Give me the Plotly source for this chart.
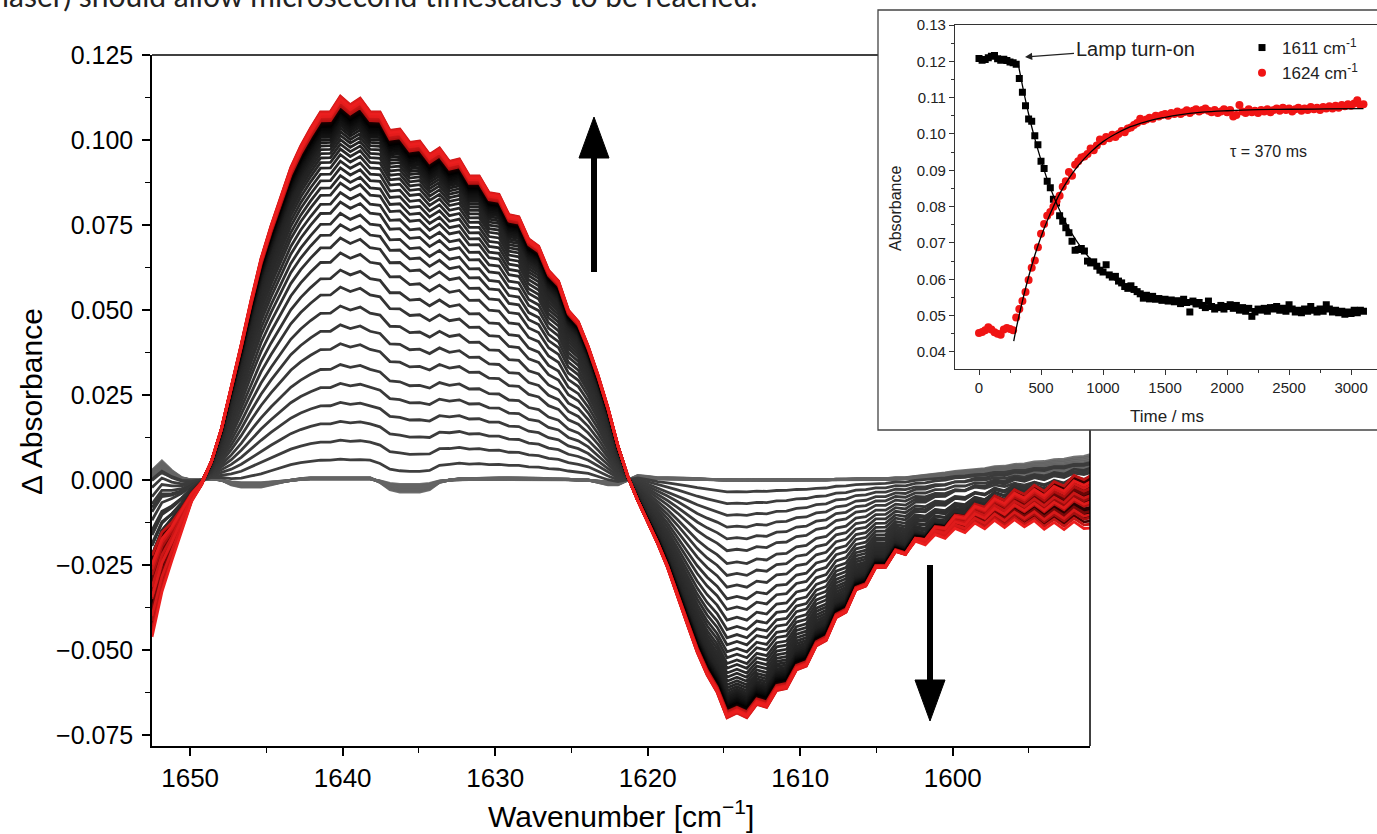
import plotly.graph_objects as go

W, H = 1377, 834

# ---------------- main spectra data ----------------
wavenumber = [1652.5, 1651.85, 1651.2, 1650.55, 1649.9, 1649.25, 1648.6, 1647.95, 1647.3, 1646.65,
              1646.0, 1645.35, 1644.7, 1644.05, 1643.4, 1642.75, 1642.1, 1641.45, 1640.8, 1640.15,
              1639.5, 1638.85, 1638.2, 1637.55, 1636.9, 1636.25, 1635.6, 1634.95, 1634.3, 1633.65,
              1633.0, 1632.35, 1631.7, 1631.05, 1630.4, 1629.75, 1629.1, 1628.45, 1627.8, 1627.15,
              1626.5, 1625.85, 1625.2, 1624.55, 1623.9, 1623.25, 1622.6, 1621.95, 1621.3, 1620.65,
              1620.0, 1619.35, 1618.7, 1618.05, 1617.4, 1616.75, 1616.1, 1615.45, 1614.8, 1614.15,
              1613.5, 1612.85, 1612.2, 1611.55, 1610.9, 1610.25, 1609.6, 1608.95, 1608.3, 1607.65,
              1607.0, 1606.35, 1605.7, 1605.05, 1604.4, 1603.75, 1603.1, 1602.45, 1601.8, 1601.15,
              1600.5, 1599.85, 1599.2, 1598.55, 1597.9, 1597.25, 1596.6, 1595.95, 1595.3, 1594.65,
              1594.0, 1593.35, 1592.7, 1592.05, 1591.4, 1590.75]

final_spectrum = [-0.036, -0.028, -0.020, -0.012, -0.005, -0.001, 0.005, 0.015, 0.028, 0.041,
                  0.054, 0.066, 0.075, 0.083, 0.091, 0.097, 0.102, 0.1067, 0.1068, 0.1112,
                  0.1088, 0.1107, 0.1068, 0.1077, 0.1038, 0.1047, 0.1008, 0.1012, 0.0968, 0.0972,
                  0.0928, 0.0932, 0.0883, 0.0882, 0.0833, 0.0827, 0.0768, 0.0762, 0.0698, 0.0677,
                  0.0608, 0.0577, 0.0493, 0.0462, 0.039, 0.031, 0.022, 0.011, 0.001, -0.007,
                  -0.013, -0.019, -0.026, -0.034, -0.0425, -0.0505, -0.057, -0.0618, -0.0692, -0.0678,
                  -0.0692, -0.0653, -0.0662, -0.0613, -0.0607, -0.0553, -0.0542, -0.0483, -0.0467, -0.0403,
                  -0.0387, -0.0323, -0.0312, -0.0258, -0.0257, -0.0213, -0.0222, -0.0183, -0.0192, -0.016,
                  -0.017, -0.014, -0.015, -0.012, -0.0135, -0.011, -0.0128, -0.0105, -0.0123, -0.0105,
                  -0.0127, -0.0107, -0.0125, -0.0102, -0.012, -0.0115]

baseline = [0.002, 0.004, 0.002, 0.0005, 0.0, 0.0, 0.0005, 0.0, -0.001, -0.0015,
            -0.0015, -0.0015, -0.001, -0.0005, 0.0, 0.0003, 0.0005, 0.0005, 0.0005, 0.0006,
            0.0005, 0.0005, 0.0005, -0.0005, -0.002, -0.0025, -0.0025, -0.0025, -0.002, -0.0005,
            0.0, 0.0003, 0.0003, 0.0004, 0.0004, 0.0005, 0.0005, 0.0005, 0.0004, 0.0004,
            0.0003, 0.0003, 0.0002, 0.0, 0.0, -0.0005, -0.001, -0.001, 0.0, 0.001,
            0.0008, 0.0005, 0.0005, 0.0005, 0.0004, 0.0003, 0.0002, 0.0, 0.0, 0.0,
            0.0, 0.0, 0.0, 0.0, 0.0, 0.0, 0.0, 0.0, 0.0, 0.0002,
            0.0002, 0.0003, 0.0003, 0.0003, 0.0003, 0.0005, 0.0005, 0.0008, 0.001, 0.0012,
            0.0015, 0.0018, 0.002, 0.0022, 0.0024, 0.0028, 0.0029, 0.0033, 0.0034, 0.0038,
            0.0039, 0.0043, 0.0044, 0.0048, 0.005, 0.0055]

drift = [0.015, 0.011, 0.007, 0.004, 0.0015, 0.0005, 0, 0, 0, 0,
         0, 0, 0, 0, 0, 0, 0, 0, 0, 0,
         0, 0, 0, 0, 0, 0, 0, 0, 0, 0,
         0, 0, 0, 0, 0, 0, 0, 0, 0, 0,
         0, 0, 0, 0, 0, 0, 0, 0, 0, 0,
         0, 0, 0, 0, 0, 0, 0, 0, 0, 0,
         0, 0, 0, 0, 0, 0, 0, 0, 0, 0,
         0, 0, 0, 0, 0, 0, 0, 0.0005, 0.001, 0.0015,
         0.002, 0.0025, 0.003, 0.0035, 0.004, 0.0045, 0.005, 0.0055, 0.006, 0.0065,
         0.007, 0.0075, 0.008, 0.0085, 0.009, 0.01]

# pre-lamp (flat) spectra: baseline scale factors
baseline_scale = [1.0, 0.6, 1.3, 0.8, 1.1, 0.5, 1.2, 0.9, 0.7, 1.4, 1.0, 0.8]

# fraction of the final difference spectrum reached by each later spectrum
rise_fraction = [0.05, 0.10, 0.15, 0.20, 0.25, 0.30, 0.355, 0.405, 0.455, 0.505,
                 0.55, 0.595, 0.635, 0.67, 0.70, 0.73,
                 0.755, 0.78, 0.80, 0.82, 0.838, 0.855, 0.87, 0.883, 0.895, 0.906,
                 0.916, 0.925, 0.933, 0.94, 0.946, 0.952, 0.957, 0.962, 0.966, 0.970,
                 0.973, 0.976, 0.979, 0.981, 0.983, 0.985, 0.987, 0.989, 0.990, 0.991,
                 0.992, 0.993, 0.994, 0.995, 0.996, 0.997, 0.998, 0.985, 1.005, 0.990,
                 1.010, 0.995, 1.000, 1.008, 0.997, 1.003]
rise_drift = [0.0, 0.1, -0.1, 0.2, 0.0, -0.2, 0.1, 0.3, -0.1, 0.0,
              0.2, -0.2, 0.1, 0.0, 0.3, -0.1, 0.2, -0.3, 0.0, 0.1,
              0.4, -0.2, 0.2, 0.0, -0.3, 0.3, 0.1, -0.1, 0.4, -0.4,
              0.2, 0.5, -0.3, 0.0, 0.6, -0.5, 0.3, -0.1, 0.4, 0.1,
              -0.4, 0.5, -0.2, 0.2, 0.7, -0.6, 0.0, 0.3, -0.3, 0.6,
              0.1, -0.5, 0.4, -0.1, 0.8, -0.7, 0.2, 0.5, -0.4, 0.0,
              0.6, -0.8]

# ---------------- inset kinetics data ----------------
time_ms = [0, 25, 50, 75, 100, 125, 150, 175, 200, 225,
           250, 275, 300, 325, 350, 375, 400, 425, 450, 475,
           500, 525, 550, 575, 600, 625, 650, 675, 700, 725,
           750, 775, 800, 825, 850, 875, 900, 925, 950, 975,
           1000, 1025, 1050, 1075, 1100, 1125, 1150, 1175, 1200, 1225,
           1250, 1275, 1300, 1325, 1350, 1375, 1400, 1425, 1450, 1475,
           1500, 1525, 1550, 1575, 1600, 1625, 1650, 1675, 1700, 1725,
           1750, 1775, 1800, 1825, 1850, 1875, 1900, 1925, 1950, 1975,
           2000, 2025, 2050, 2075, 2100, 2125, 2150, 2175, 2200, 2225,
           2250, 2275, 2300, 2325, 2350, 2375, 2400, 2425, 2450, 2475,
           2500, 2525, 2550, 2575, 2600, 2625, 2650, 2675, 2700, 2725,
           2750, 2775, 2800, 2825, 2850, 2875, 2900, 2925, 2950, 2975,
           3000, 3025, 3050, 3075, 3100]

abs_1611 = [0.1208, 0.1203, 0.1205, 0.1210, 0.1214, 0.1216, 0.1207, 0.1203, 0.1206, 0.1202,
            0.1198, 0.1196, 0.1192, 0.1153, 0.1115, 0.1078, 0.1041, 0.1035, 0.0995, 0.0970,
            0.0925, 0.0905, 0.0870, 0.0852, 0.0820, 0.0810, 0.0775, 0.0760, 0.0742, 0.0728,
            0.0705, 0.0680, 0.0682, 0.0685, 0.0678, 0.0650, 0.0645, 0.0648, 0.0636, 0.0625,
            0.0620, 0.0640, 0.0612, 0.0606, 0.0608, 0.0595, 0.0590, 0.0580, 0.0575, 0.0582,
            0.0572, 0.0566, 0.0560, 0.0548, 0.0556, 0.0546, 0.0553, 0.0545, 0.0547, 0.0542,
            0.0545, 0.0540, 0.0543, 0.0538, 0.0541, 0.0533, 0.0545, 0.0536, 0.0510, 0.0540,
            0.0532, 0.0536, 0.0528, 0.0522, 0.0540, 0.0525, 0.0518, 0.0522, 0.0528, 0.0518,
            0.0525, 0.0530, 0.0520, 0.0528, 0.0515, 0.0522, 0.0512, 0.0520, 0.0498, 0.0510,
            0.0518, 0.0515, 0.0520, 0.0512, 0.0522, 0.0518, 0.0525, 0.0515, 0.0520, 0.0512,
            0.0530, 0.0518, 0.0510, 0.0515, 0.0508, 0.0518, 0.0512, 0.0525, 0.0515, 0.0510,
            0.0518, 0.0512, 0.0530, 0.0518, 0.0510, 0.0515, 0.0508, 0.0512, 0.0504, 0.0510,
            0.0506, 0.0515, 0.0508, 0.0515, 0.0512]

abs_1624 = [0.0452, 0.0455, 0.0460, 0.0468, 0.0462, 0.0454, 0.0450, 0.0447, 0.0462, 0.0466,
            0.0463, 0.0460, 0.0495, 0.0518, 0.0540, 0.0565, 0.0598, 0.0632, 0.0652, 0.0688,
            0.0725, 0.0752, 0.0775, 0.0785, 0.0800, 0.0815, 0.0830, 0.0855, 0.0870, 0.0895,
            0.0885, 0.0915, 0.0925, 0.0935, 0.0938, 0.0945, 0.0960, 0.0955, 0.0968, 0.0985,
            0.0980, 0.0992, 0.0988, 0.0998, 0.0992, 0.1000, 0.1008, 0.1005, 0.1015, 0.1018,
            0.1025, 0.1030, 0.1042, 0.1036, 0.1040, 0.1045, 0.1042, 0.1050, 0.1048, 0.1052,
            0.1055, 0.1050, 0.1058, 0.1055, 0.1062, 0.1055, 0.1060, 0.1065, 0.1058, 0.1064,
            0.1068, 0.1062, 0.1066, 0.1070, 0.1064, 0.1060, 0.1066, 0.1058, 0.1062, 0.1068,
            0.1060, 0.1066, 0.1048, 0.1052, 0.1080, 0.1062, 0.1058, 0.1068, 0.1060, 0.1064,
            0.1058, 0.1066, 0.1062, 0.1068, 0.1060, 0.1066, 0.1070, 0.1064, 0.1072, 0.1066,
            0.1070, 0.1062, 0.1068, 0.1072, 0.1064, 0.1070, 0.1066, 0.1074, 0.1068, 0.1072,
            0.1066, 0.1074, 0.1070, 0.1076, 0.1070, 0.1078, 0.1072, 0.1080, 0.1076, 0.1082,
            0.1078, 0.1084, 0.1093, 0.1080, 0.1082]

fit_time_1611 = [315, 350, 400, 450, 500, 550, 600, 650, 700, 750, 800, 900, 1000, 1100, 1200,
                 1300, 1400, 1500, 1600, 1800, 2000, 2250, 2500, 2800, 3100]
fit_1611 = [0.1195, 0.1134, 0.1055, 0.0987, 0.0928, 0.0875, 0.0830, 0.0790, 0.0755, 0.0725,
            0.0699, 0.0655, 0.0622, 0.0597, 0.0577, 0.0563, 0.0551, 0.0543, 0.0536, 0.0527,
            0.0522, 0.0519, 0.0517, 0.0516, 0.0515]
fit_time_1624 = [280, 300, 325, 350, 400, 450, 500, 550, 600, 650, 700, 750, 800, 900, 1000,
                 1100, 1200, 1300, 1400, 1500, 1600, 1800, 2000, 2250, 2500, 2800, 3100]
fit_1624 = [0.0430, 0.0464, 0.0503, 0.0540, 0.0607, 0.0666, 0.0717, 0.0761, 0.0800, 0.0835,
            0.0864, 0.0890, 0.0913, 0.0950, 0.0979, 0.1000, 0.1017, 0.1029, 0.1039, 0.1046,
            0.1052, 0.1060, 0.1064, 0.1067, 0.1068, 0.1069, 0.1070]

x_ticks_main = [1650, 1640, 1630, 1620, 1610, 1600]
y_ticks_main = [-0.075, -0.05, -0.025, 0.0, 0.025, 0.05, 0.075, 0.1, 0.125]


# ---------------- helpers ----------------
def px(x):
    return x / W


def py(y):
    return 1 - y / H


def mix(stops, p):
    for (p0, c0), (p1, c1) in zip(stops[:-1], stops[1:]):
        if p <= p1:
            t = 0 if p1 == p0 else (p - p0) / (p1 - p0)
            r, g, b = [round(a + (bb - a) * t) for a, bb in zip(c0, c1)]
            return f"rgb({r},{g},{b})"
    r, g, b = stops[-1][1]
    return f"rgb({r},{g},{b})"


color_stops = [(0.0, (62, 62, 62)), (0.40, (36, 36, 36)), (0.58, (0, 0, 0)),
               (0.72, (55, 0, 0)), (0.84, (170, 15, 15)), (1.0, (235, 30, 30))]

fig = go.Figure()

# pre-lamp spectra (gray, near zero)
for g in baseline_scale:
    yv = [g * b for b in baseline]
    fig.add_trace(go.Scatter(x=wavenumber, y=yv, mode="lines",
                             line=dict(color="rgba(100,100,100,0.9)", width=2.8),
                             showlegend=False, hoverinfo="skip", xaxis="x", yaxis="y"))

n_rise = len(rise_fraction)
for i, (f, w) in enumerate(zip(rise_fraction, rise_drift)):
    yv = [f * s + b + w * d for s, b, d in zip(final_spectrum, baseline, drift)]
    col = mix(color_stops, i / (n_rise - 1))
    fig.add_trace(go.Scatter(x=wavenumber, y=yv, mode="lines",
                             line=dict(color=col, width=2.8),
                             showlegend=False, hoverinfo="skip", xaxis="x", yaxis="y"))

# inset
fig.add_trace(go.Scatter(x=time_ms, y=abs_1611, mode="markers", name="1611 cm<sup>-1</sup>",
                         marker=dict(symbol="square", size=7, color="black"),
                         xaxis="x2", yaxis="y2", hoverinfo="skip"))
fig.add_trace(go.Scatter(x=time_ms, y=abs_1624, mode="markers", name="1624 cm<sup>-1</sup>",
                         marker=dict(symbol="circle", size=8, color="#f01414"),
                         xaxis="x2", yaxis="y2", hoverinfo="skip"))
fig.add_trace(go.Scatter(x=fit_time_1611, y=fit_1611, mode="lines", line=dict(color="black", width=1.3, shape="spline"),
                         showlegend=False, xaxis="x2", yaxis="y2", hoverinfo="skip"))
fig.add_trace(go.Scatter(x=fit_time_1624, y=fit_1624, mode="lines", line=dict(color="black", width=1.3, shape="spline"),
                         showlegend=False, xaxis="x2", yaxis="y2", hoverinfo="skip"))

FONT = "Liberation Sans, Arial, sans-serif"
NARROW = "Liberation Sans Narrow, Arial Narrow, Liberation Sans, Arial, sans-serif"

shapes = [
    # main frame top & right (partly hidden by inset)
    dict(type="line", xref="paper", yref="paper", x0=px(152), x1=px(878), y0=py(55), y1=py(55),
         line=dict(color="black", width=1.5)),
    dict(type="line", xref="paper", yref="paper", x0=px(1090), x1=px(1090), y0=py(430), y1=py(746),
         line=dict(color="black", width=1.5)),
    # inset frame
    dict(type="rect", xref="paper", yref="paper", x0=px(878), x1=px(1400), y0=py(430), y1=py(10),
         line=dict(color="#444444", width=1.3)),
    # up arrow
    dict(type="line", xref="paper", yref="paper", x0=px(594), x1=px(594), y0=py(272), y1=py(150),
         line=dict(color="black", width=6)),
    dict(type="path", xref="paper", yref="paper",
         path=f"M {px(579)},{py(158)} L {px(609)},{py(158)} L {px(594)},{py(117)} Z",
         fillcolor="black", line=dict(color="black", width=1)),
    # down arrow
    dict(type="line", xref="paper", yref="paper", x0=px(930), x1=px(930), y0=py(565), y1=py(688),
         line=dict(color="black", width=6)),
    dict(type="path", xref="paper", yref="paper",
         path=f"M {px(915)},{py(680)} L {px(945)},{py(680)} L {px(930)},{py(721)} Z",
         fillcolor="black", line=dict(color="black", width=1)),
]

annotations = [
    dict(text="laser) should allow microsecond timescales to be reached.", xref="paper", yref="paper",
         x=0, y=py(15), xanchor="left", yanchor="bottom", showarrow=False,
         font=dict(family="Lato, Open Sans, sans-serif", size=30, color="#222222")),
    dict(text="Δ Absorbance", xref="paper", yref="paper", x=px(31), y=py(402), textangle=-90,
         xanchor="center", yanchor="middle",
         showarrow=False, font=dict(family=FONT, size=30, color="black")),
    dict(text="Wavenumber [cm<sup>−1</sup>]", xref="paper", yref="paper", x=px(621), y=py(814),
         xanchor="center", yanchor="middle",
         showarrow=False, font=dict(family=FONT, size=30, color="black")),
    dict(text="Absorbance", xref="paper", yref="paper", x=px(895), y=py(209), textangle=-90,
         xanchor="center", yanchor="middle",
         showarrow=False, font=dict(family=FONT, size=16, color="#222222")),
    dict(text="Time / ms", xref="paper", yref="paper", x=px(1167), y=py(416),
         xanchor="center", yanchor="middle",
         showarrow=False, font=dict(family=FONT, size=17, color="#222222")),
    dict(text="τ = 370 ms", xref="paper", yref="paper", x=px(1268), y=py(152),
         xanchor="center", yanchor="middle",
         showarrow=False, font=dict(family=FONT, size=16, color="#222222")),
    dict(text="Lamp turn-on", xref="x2", yref="y2", x=371, y=0.1212, ax=110, ay=-8,
         showarrow=True, arrowhead=2, arrowsize=1.2, arrowwidth=1.2, arrowcolor="#222222", standoff=0,
         font=dict(family=FONT, size=20, color="#222222")),
]

fig.update_layout(
    width=W, height=H, margin=dict(l=0, r=0, t=0, b=0),
    paper_bgcolor="white", plot_bgcolor="white", template="none",
    showlegend=True,
    legend=dict(x=px(1242), y=py(30), xanchor="left", yanchor="top", bgcolor="rgba(0,0,0,0)",
                font=dict(family=FONT, size=17, color="#222222"), borderwidth=0,
                tracegroupgap=0, itemwidth=30),
    xaxis=dict(domain=[px(152), px(1090)], range=[1652.5, 1591], anchor="y",
               showline=True, linecolor="black", linewidth=1.5, mirror=False,
               ticks="outside", ticklen=8, tickwidth=1.5, tickcolor="black",
               tickmode="array", tickvals=x_ticks_main, ticklabelstandoff=0,
               tickfont=dict(family=NARROW, size=26, color="black"),
               minor=dict(tick0=1600, dtick=5, ticks="outside", ticklen=5, tickwidth=1.2, tickcolor="black"),
               showgrid=False, zeroline=False, automargin=False),
    yaxis=dict(domain=[py(746), py(55)], range=[-0.0782, 0.125], anchor="x",
               showline=True, linecolor="black", linewidth=1.5, mirror=False,
               ticks="outside", ticklen=8, tickwidth=1.5, tickcolor="black",
               tickmode="array", tickvals=y_ticks_main, tickformat=".3f", ticklabelstandoff=4,
               tickfont=dict(family=FONT, size=25, color="black"),
               minor=dict(tick0=0, dtick=0.0125, ticks="outside", ticklen=5, tickwidth=1.2, tickcolor="black"),
               showgrid=False, zeroline=False, automargin=False),
    xaxis2=dict(domain=[px(955), px(1376.5)], range=[-193.5, 3205], anchor="y2",
                showline=True, linecolor="#333333", linewidth=1.2, mirror=True,
                ticks="outside", ticklen=5, tickwidth=1, tickcolor="#333333",
                tick0=0, dtick=500, tickfont=dict(family=FONT, size=15, color="#222222"),
                minor=dict(tick0=0, dtick=250, ticks="outside", ticklen=3, tickwidth=1, tickcolor="#333333"),
                showgrid=False, zeroline=False, automargin=False),
    yaxis2=dict(domain=[py(369), py(25)], range=[0.0353, 0.13], anchor="x2",
                showline=True, linecolor="#333333", linewidth=1.2, mirror=False,
                ticks="outside", ticklen=5, tickwidth=1, tickcolor="#333333",
                tick0=0, dtick=0.01, tickformat=".2f", tickfont=dict(family=FONT, size=15, color="#222222"),
                minor=dict(tick0=0, dtick=0.005, ticks="outside", ticklen=3, tickwidth=1, tickcolor="#333333"),
                showgrid=False, zeroline=False, automargin=False),
    shapes=shapes,
    annotations=annotations,
)

fig.write_html("out.html", config={"displayModeBar": False},
               post_script="document.body.style.margin='0';document.body.style.overflow='hidden';")
